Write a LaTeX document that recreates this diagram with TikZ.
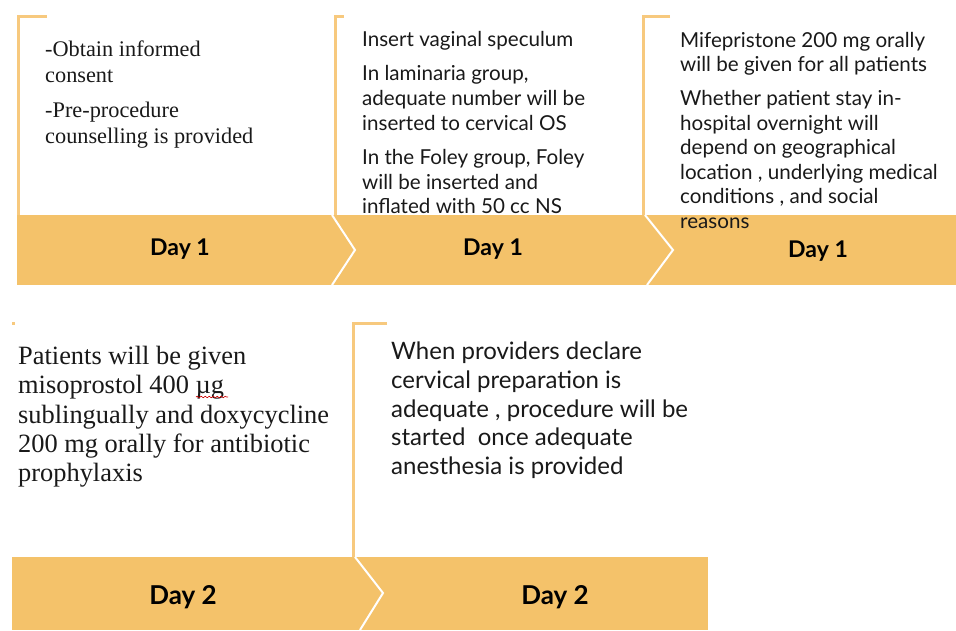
\documentclass[tikz,border=0pt]{standalone}
\usepackage{fontspec}
\setmainfont{Liberation Serif}
\newfontfamily\gillfont{Lato}
\usetikzlibrary{positioning}
\usetikzlibrary{decorations.pathmorphing}
\definecolor{barfill}{HTML}{F4C26A}
\definecolor{bracketline}{HTML}{F7C97E}

\begin{document}
\begin{tikzpicture}[
        x=1pt, y=-1pt,
        bar/.style={fill=barfill, draw=none},
        sepline/.style={draw=white, line width=2pt},
        bracket/.style={draw=bracketline, line width=3pt},
        serifnote/.style={
            anchor=north west,
            inner sep=0pt,
            align=left,
            text=black!90,
            font=\fontsize{22.3}{26}\selectfont
        },
        sansnote/.style={
            anchor=north west,
            inner sep=0pt,
            align=left,
            text=black!90,
            font=\gillfont\fontsize{20.6}{24.6}\selectfont
        },
        daylabel/.style={
            inner sep=0pt,
            font=\gillfont\bfseries\fontsize{23}{26}\selectfont
        }
    ]
        \useasboundingbox (0,0) rectangle (956,630);

        % bars
        \fill[bar] (17,215) rectangle (956,285);
        \fill[bar] (12,557) rectangle (708,630);
        \draw[sepline] (332,215) -- (355,250) -- (332,285);
        \draw[sepline] (645,215) -- (673,250) -- (647,285);
        \draw[sepline] (355,557) -- (383,593) -- (360,630);

        % brackets
        \draw[bracket] (47,16) -- (18,16) -- (18,215);
        \draw[bracket] (344,16) -- (335,16) -- (335,215);
        \draw[bracket] (670,16) -- (643,16) -- (643,215);
        \draw[bracket] (12,323) -- (15,323);
        \draw[bracket] (387,323) -- (353,323) -- (353,557);

        % notes
        \node[serifnote] (consent) at (45,41) {-Obtain informed\\consent\\[9pt]-Pre-procedure\\counselling is provided};
        \node[sansnote] (speculum) at (362,31) {Insert vaginal speculum\\[10pt]In laminaria group,\\adequate number will be\\inserted to cervical OS\\[10pt]In the Foley group, Foley\\will be inserted and\\inflated with 50 cc NS};
        \node[sansnote] (mife) at (680,32) {Mifepristone 200 mg orally\\will be given for all patients\\[9pt]Whether patient stay in-\\hospital overnight will\\depend on geographical\\location , underlying medical\\conditions , and social\\reasons};
        \node[serifnote, font=\fontsize{26.4}{29.3}\selectfont] (miso) at (18,346) {Patients will be given\\misoprostol 400 µg\\sublingually and doxycycline\\200 mg orally for antibiotic\\prophylaxis};
        \node[sansnote, font=\gillfont\fontsize{24}{28.7}\selectfont] (proc) at (391,342) {When providers declare\\cervical preparation is\\adequate , procedure will be\\started\ \ once adequate\\anesthesia is provided};
        \draw[red!80!black, line width=0.6pt, decorate, decoration={snake, amplitude=0.8pt, segment length=4pt}] (196,397) -- (228,397);

        % day labels
        \node[daylabel] (day1a) at (180,249) {Day 1};
        \node[daylabel] (day1b) at (493,249) {Day 1};
        \node[daylabel] (day1c) at (818,251) {Day 1};
        \node[daylabel, font=\gillfont\bfseries\fontsize{26}{28}\selectfont] (day2a) at (183,597) {Day 2};
        \node[daylabel, font=\gillfont\bfseries\fontsize{26}{28}\selectfont] (day2b) at (555,597) {Day 2};
    \end{tikzpicture}
\end{document}
